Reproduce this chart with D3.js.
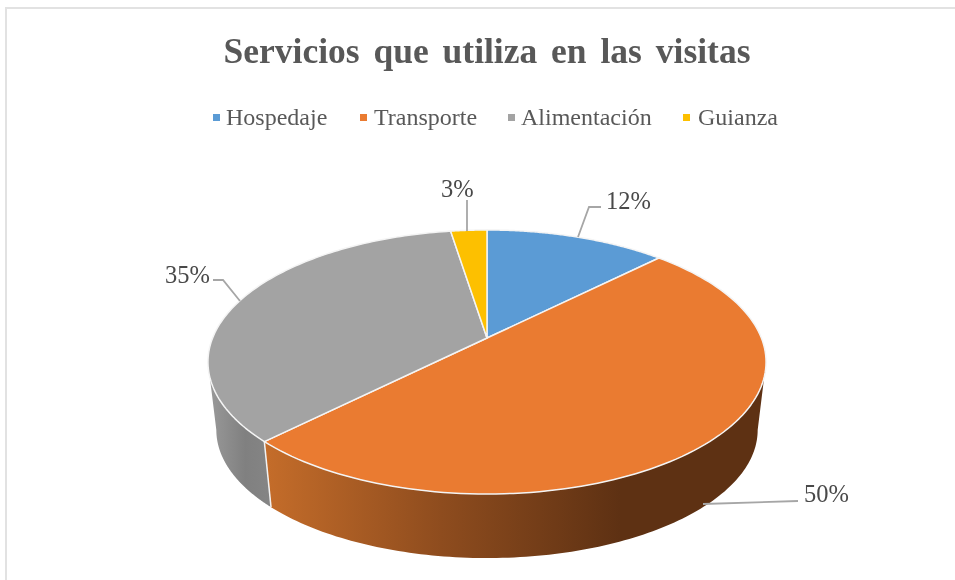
<!DOCTYPE html>
<html><head><meta charset="utf-8">
<script src="https://cdnjs.cloudflare.com/ajax/libs/d3/7.8.5/d3.min.js"></script>
<style>html,body{margin:0;padding:0;background:#fff}svg{display:block}text{font-family:"Liberation Serif",serif}</style>
</head><body><svg id="c" width="955" height="580"></svg>
<script>
const categories = ["Hospedaje","Transporte","Alimentación","Guianza"];
const values = [12.5,50,35,2.5];
const labels = ["12%","50%","35%","3%"];
const colors = ["#5B9BD5","#EA7B31","#A3A3A3","#FDC000"];
const title = "Servicios que utiliza en las visitas";

const svg = d3.select("#c");
const cx = 487, apexY = 338, C = 0.1818, A = -66.2, D = 274.4;
const depthScale = 0.97, depthShift = 68, ellipseCy = 362;
const project = (a) => {
  const X = Math.sin(a), Y = Math.cos(a), den = C*Y + 1;
  return [cx + D*X/den, (A*Y + apexY)/den];
};
const lower = ([x,y]) => [cx + (x-cx)*depthScale, ellipseCy + (y-ellipseCy)*depthScale + depthShift];
const arcs = d3.pie().sort(null).value(d=>d)(values);
const samples = (a0,a1) => d3.range(0,121).map(i => a0 + (a1-a0)*i/120);
const line = d3.line();
const extreme = Math.acos(-C);   // rim angle at which the top ellipse is widest

const defs = svg.append("defs");
defs.append("filter").attr("id","soft").append("feGaussianBlur").attr("stdDeviation",0.4);
const addGrad = (id, x1, x2, stops) => {
  const g = defs.append("linearGradient").attr("id",id).attr("gradientUnits","userSpaceOnUse")
    .attr("x1",x1).attr("x2",x2).attr("y1",0).attr("y2",0);
  stops.forEach(([o,c]) => g.append("stop").attr("offset",o).attr("stop-color",c));
};
addGrad("sideO",263,620,[[0,"#C56D2A"],[0.5,"#8E4C1E"],[1,"#5E3113"]]);
addGrad("sideG",208,270,[[0,"#9A9A9A"],[0.6,"#808080"],[1,"#858585"]]);

// frame
svg.append("path").attr("d","M6,580V8H955").attr("fill","none").attr("stroke","#e2e2e2").attr("stroke-width",2);

// sides
const rimSides = [
  {a0:extreme, a1:arcs[1].endAngle, fill:"url(#sideO)"},
  {a0:arcs[2].startAngle, a1:2*Math.PI - extreme, fill:"url(#sideG)"}
];
rimSides.forEach(s => {
  const top = samples(s.a0,s.a1).map(project);
  const bot = top.map(lower).reverse();
  svg.append("path").attr("d",line(top.concat(bot))+"Z").attr("fill",s.fill);
});
// seam between gray and orange side
const seam = project(arcs[1].endAngle);
svg.append("path").attr("d",line([seam,lower(seam)])).attr("stroke","#f2f2f2").attr("stroke-width",1.5).attr("fill","none");

// top slices
arcs.forEach((d,i) => {
  const rim = samples(d.startAngle,d.endAngle).map(project);
  svg.append("path").attr("d",line([[cx,apexY]].concat(rim))+"Z")
    .attr("fill",colors[i]).attr("stroke","#f4f4f4").attr("stroke-width",1.5).attr("stroke-linejoin","round");
});

const txt = svg.append("g").attr("filter","url(#soft)");
// title
txt.append("text").attr("x",487).attr("y",63).attr("text-anchor","middle")
  .attr("font-size",35.5).attr("font-weight","bold").attr("fill","#595959").attr("word-spacing",5).text(title);

// legend
const legendX = [213,360,508,683], legendTextX = [226,374,521,698];
categories.forEach((c,i) => {
  svg.append("rect").attr("x",legendX[i]).attr("y",114).attr("width",7).attr("height",7).attr("fill",colors[i]);
  txt.append("text").attr("x",legendTextX[i]).attr("y",125).attr("font-size",24).attr("fill","#595959").text(c);
});

// labels + leaders
const labelPos = [[606,209],[804,502],[165,283],[441,197]];
const leaders = [
  [[578,237],[589,207],[601,207]],
  [[703,504],[798,501]],
  [[240,301],[223,280],[213,280]],
  [[467,231],[467,200]]
];
labels.forEach((t,i) => {
  svg.append("path").attr("d",line(leaders[i])).attr("fill","none").attr("stroke","#a6a6a6").attr("stroke-width",1.8);
  txt.append("text").attr("x",labelPos[i][0]).attr("y",labelPos[i][1]).attr("font-size",24.5).attr("fill","#4a4a4a").text(t);
});
</script></body></html>
